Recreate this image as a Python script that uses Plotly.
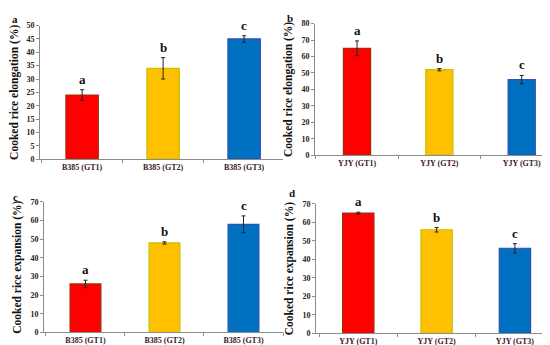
import plotly.graph_objects as go

# ---- data ----
cats_b385 = ["B385 (GT1)", "B385 (GT2)", "B385 (GT3)"]
cats_yjy = ["YJY (GT1)", "YJY (GT2)", "YJY (GT3)"]

elong_b385 = [24, 34, 45]
elong_b385_err = [2, 4, 1.2]
elong_yjy = [65, 52, 46]
elong_yjy_err = [4.5, 0.7, 2.5]

expan_b385 = [26, 48, 58]
expan_b385_err = [2, 0.6, 4.5]
expan_yjy = [65, 56, 46]
expan_yjy_err = [0.5, 1.2, 2.5]

letters = ["a", "b", "c"]
panel_tags = ["a", "b", "c", "d"]

bar_colors = ["#FF0000", "#FFC000", "#0070C0"]
bar_edges = ["#A0300A", "#C8C000", "#2F4FB5"]

W, H = 550, 345
FONT = "Liberation Serif"

def fx(px):
    return px / W

def fy(py):
    return 1 - py / H

panels = [
    (cats_b385, elong_b385, elong_b385_err, "Cooked rice elongation (%)", 32, 275, 151, 14, 50, 5, [-0.52, 2.48], 0.4),
    (cats_yjy, elong_yjy, elong_yjy_err, "Cooked rice elongation (%)", 307, 545, 147, 12, 80, 10, [-0.51, 2.38], 0.33),
    (cats_b385, expan_b385, expan_b385_err, "Cooked rice expansion (%)", 36, 275, 329, 195, 70, 10, [-0.525, 2.5], 0.39),
    (cats_yjy, expan_yjy, expan_yjy_err, "Cooked rice expansion (%)", 308, 550, 330, 197, 70, 10, [-0.54, 2.55], 0.4),
]

fig = go.Figure()
annotations = []
for i, (cats, vals, errs, title, x0, x1, yz, yt, ymax, dt, xr, bw) in enumerate(panels):
    n = "" if i == 0 else str(i + 1)
    xa, ya = "x" + n, "y" + n
    fig.add_trace(go.Bar(
        x=cats, y=vals, xaxis=xa, yaxis=ya, width=bw,
        marker=dict(color=bar_colors, line=dict(color=bar_edges, width=1.2)),
        error_y=dict(type="data", array=errs, color="#222222", thickness=1, width=2),
        showlegend=False, hoverinfo="skip",
    ))
    for c, v, e, l in zip(cats, vals, errs, letters):
        annotations.append(dict(
            x=c, y=v + e, xref=xa, yref=ya, text="<b>%s</b>" % l, showarrow=False,
            yanchor="bottom", yshift=1, font=dict(family=FONT, size=13, color="#111111"),
        ))
    fig.layout["xaxis" + n] = dict(
        domain=[fx(x0), fx(x1)], anchor=ya, type="category", range=xr,
        showline=True, linecolor="#8c8c8c", linewidth=1, ticks="outside",
        tickson="boundaries", ticklen=3, tickcolor="#8c8c8c",
        tickfont=dict(family=FONT, size=8, color="#3a1a2a", weight="bold"), showgrid=False,
        fixedrange=True,
    )
    fig.layout["yaxis" + n] = dict(
        domain=[fy(yz), fy(yt)], anchor=xa, range=[0, ymax], dtick=dt,
        showline=True, linecolor="#8c8c8c", linewidth=1, ticks="outside",
        ticklen=3, tickcolor="#8c8c8c", showgrid=False, zeroline=False,
        tickfont=dict(family=FONT, size=8, color="#222222", weight="bold"),
        title=dict(text="<b>%s</b>" % title, font=dict(family=FONT, size=11.5, color="#111111"), standoff=6),
        fixedrange=True,
    )

tag_pos = [(2, 7), (277, 6), (3, 190), (279, 186)]
for t, (px, py) in zip(panel_tags, tag_pos):
    annotations.append(dict(
        x=fx(px), y=fy(py), xref="paper", yref="paper", text="<b>%s</b>" % t,
        showarrow=False, xanchor="left", yanchor="middle",
        font=dict(family=FONT, size=11, color="#111111"),
    ))

fig.update_layout(
    width=W, height=H, margin=dict(l=0, r=0, t=0, b=0),
    paper_bgcolor="white", plot_bgcolor="white",
    annotations=annotations, bargap=0.5,
)
fig.write_html("out.html")
